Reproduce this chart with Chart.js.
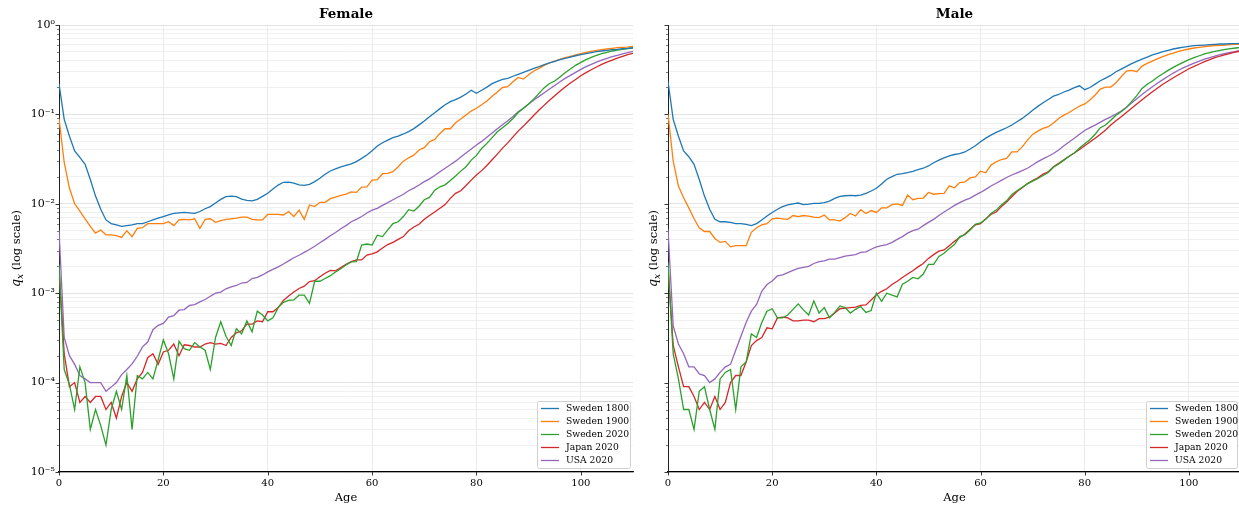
<!DOCTYPE html>
<html>
<head>
<meta charset="utf-8">
<script src="https://cdn.jsdelivr.net/npm/chart.js@4.4.1/dist/chart.umd.min.js"></script>
<style>
  html, body { margin: 0; padding: 0; background: #fff; overflow: hidden; }
  #wrap { position: relative; width: 1239px; height: 512px; overflow: hidden; }
  canvas { position: absolute; top: 0; }
  #female { left: 0; }
  #male { left: 620px; }
</style>
</head>
<body>
<div id="wrap">
  <canvas id="female" width="640" height="512"></canvas>
  <canvas id="male" width="625" height="512"></canvas>
</div>
<script>
// ── Data ─────────────────────────────────────────────────────────────
const AGES = [
  0, 1, 2, 3, 4, 5, 6, 7, 8, 9,
  10, 11, 12, 13, 14, 15, 16, 17, 18, 19,
  20, 21, 22, 23, 24, 25, 26, 27, 28, 29,
  30, 31, 32, 33, 34, 35, 36, 37, 38, 39,
  40, 41, 42, 43, 44, 45, 46, 47, 48, 49,
  50, 51, 52, 53, 54, 55, 56, 57, 58, 59,
  60, 61, 62, 63, 64, 65, 66, 67, 68, 69,
  70, 71, 72, 73, 74, 75, 76, 77, 78, 79,
  80, 81, 82, 83, 84, 85, 86, 87, 88, 89,
  90, 91, 92, 93, 94, 95, 96, 97, 98, 99,
  100, 101, 102, 103, 104, 105, 106, 107, 108, 109, 110
];

const SERIES_LABELS = ['Sweden 1800', 'Sweden 1900', 'Sweden 2020', 'Japan 2020', 'USA 2020'];
const SERIES_COLORS = ['#1f77b4', '#ff7f0e', '#2ca02c', '#d62728', '#9467bd'];

const X_TICKS = [0, 20, 40, 60, 80, 100];
const Y_DECADES = [-5, -4, -3, -2, -1, 0];

// Female q_x
const F_SWE1800 = [
  0.22, 0.088, 0.057, 0.039, 0.033, 0.0276, 0.0187, 0.0122, 0.0087, 0.0066,
  0.0060, 0.0058, 0.0056, 0.0057, 0.0058, 0.0060, 0.0060, 0.0063, 0.0066, 0.0069,
  0.0072, 0.0075, 0.0078, 0.0079, 0.0080, 0.0079, 0.0078, 0.0082, 0.0088, 0.0093,
  0.0102, 0.0112, 0.0120, 0.0122, 0.0120, 0.0113, 0.0109, 0.0108, 0.0112, 0.0121,
  0.0131, 0.0146, 0.0162, 0.0174, 0.0175, 0.0170, 0.0163, 0.0161, 0.0165, 0.0177,
  0.0193, 0.0214, 0.0233, 0.0246, 0.0259, 0.0269, 0.0279, 0.0296, 0.0322, 0.0352,
  0.0393, 0.0443, 0.0482, 0.0516, 0.0549, 0.0573, 0.0604, 0.0641, 0.0693, 0.0763,
  0.0842, 0.0942, 0.1045, 0.116, 0.128, 0.139, 0.146, 0.156, 0.169, 0.186,
  0.172, 0.186, 0.202, 0.221, 0.234, 0.247, 0.253, 0.267, 0.281, 0.295,
  0.311, 0.327, 0.342, 0.360, 0.376, 0.392, 0.410, 0.424, 0.438, 0.453,
  0.466, 0.478, 0.490, 0.503, 0.512, 0.520, 0.530, 0.534, 0.543, 0.548, 0.558
];
const F_SWE1900 = [
  0.09, 0.029, 0.015, 0.010, 0.0083, 0.0068, 0.0056, 0.0047, 0.0051, 0.0045,
  0.0045, 0.0044, 0.0042, 0.0050, 0.0043, 0.0053, 0.0054, 0.0060, 0.0060, 0.0060,
  0.0060, 0.0063, 0.0057, 0.0066, 0.0067, 0.0066, 0.0068, 0.0053, 0.0067, 0.0068,
  0.0062, 0.0065, 0.0067, 0.0068, 0.0069, 0.0071, 0.0071, 0.0067, 0.0066, 0.0066,
  0.0076, 0.0076, 0.0076, 0.0075, 0.0082, 0.0072, 0.0085, 0.0067, 0.0097, 0.0093,
  0.0104, 0.0104, 0.0114, 0.0119, 0.0124, 0.0128, 0.0136, 0.0134, 0.0154, 0.0155,
  0.0184, 0.0186, 0.0217, 0.0219, 0.0229, 0.026, 0.030, 0.0327, 0.035, 0.040,
  0.0424, 0.0494, 0.0525, 0.0613, 0.0691, 0.0691, 0.0807, 0.0887, 0.0984, 0.109,
  0.117, 0.128, 0.141, 0.160, 0.178, 0.200, 0.204, 0.232, 0.259, 0.248,
  0.278, 0.306, 0.327, 0.354, 0.376, 0.395, 0.413, 0.431, 0.446, 0.462,
  0.478, 0.494, 0.507, 0.520, 0.530, 0.539, 0.548, 0.558, 0.563, 0.567, 0.577
];
const F_SWE2020 = [
  0.0021, 0.00014, 0.000095, 0.00005, 0.00015, 0.0001, 0.00003, 0.00005, 0.000033, 0.00002,
  0.00005, 0.00008, 0.00005, 0.00012, 0.00003, 0.00012, 0.00011, 0.00013, 0.00011, 0.00018,
  0.0003, 0.00021, 0.00011, 0.00029, 0.00024, 0.00023, 0.00028, 0.00025, 0.00023, 0.00014,
  0.00032, 0.00048, 0.00033, 0.00026, 0.0004, 0.00035, 0.00049, 0.00037, 0.00063, 0.00057,
  0.00049, 0.00053, 0.00069, 0.00079, 0.00083, 0.00084, 0.00095, 0.00095, 0.00077, 0.00136,
  0.00136, 0.00146, 0.00157, 0.00173, 0.00188, 0.00207, 0.00224, 0.00226, 0.00345, 0.00355,
  0.00345, 0.00446, 0.0043, 0.0051, 0.006, 0.0063, 0.0072, 0.0086, 0.0083, 0.0094,
  0.0111, 0.0118, 0.0142, 0.0155, 0.0163, 0.0182, 0.0205, 0.0232, 0.026, 0.0308,
  0.0348, 0.0416, 0.0474, 0.055, 0.064, 0.071, 0.079, 0.09, 0.105, 0.117,
  0.131, 0.149, 0.172, 0.199, 0.222, 0.236, 0.262, 0.293, 0.322, 0.354,
  0.382, 0.41, 0.434, 0.457, 0.478, 0.494, 0.512, 0.525, 0.534, 0.543, 0.553
];
const F_JPN2020 = [
  0.0019, 0.00021, 0.00009, 0.0001, 0.00006, 0.00007, 0.00006, 0.00007, 0.00007, 0.00005,
  0.00006, 0.00004, 0.00007, 0.0001, 0.00008, 0.00011, 0.00013, 0.00019, 0.00021, 0.00016,
  0.00022, 0.00023, 0.00027, 0.0002, 0.000265, 0.00026, 0.00025, 0.00025, 0.00027, 0.00028,
  0.00027, 0.000275, 0.00026, 0.00032, 0.00036, 0.00038, 0.00045, 0.00045, 0.00049, 0.00048,
  0.00062, 0.00062, 0.00069, 0.00083, 0.00093, 0.00103, 0.00113, 0.0012, 0.00135, 0.00138,
  0.00153, 0.00167, 0.0018, 0.00178, 0.00194, 0.00211, 0.00226, 0.00236, 0.00236, 0.00267,
  0.00275, 0.0029, 0.0032, 0.0035, 0.0037, 0.004, 0.0043, 0.005, 0.0055, 0.0059,
  0.0067, 0.0074, 0.0081, 0.0089, 0.0098, 0.0115, 0.0131, 0.014, 0.016, 0.0184,
  0.021, 0.0235, 0.0268, 0.0311, 0.036, 0.042, 0.048, 0.056, 0.065, 0.074,
  0.085, 0.098, 0.112, 0.127, 0.144, 0.162, 0.181, 0.202, 0.224, 0.246,
  0.271, 0.293, 0.316, 0.339, 0.363, 0.385, 0.405, 0.427, 0.446, 0.466, 0.482
];
const F_USA2020 = [
  0.0051, 0.00032, 0.0002, 0.00016, 0.00012, 0.00011, 0.0001, 0.0001, 0.0001, 0.00008,
  0.000089, 0.0001, 0.000123, 0.00014, 0.000162, 0.000197, 0.000251, 0.000284, 0.00039, 0.000437,
  0.00046, 0.00054, 0.00056, 0.000645, 0.000656, 0.00073, 0.000747, 0.0008, 0.00085, 0.000925,
  0.001, 0.00103, 0.00112, 0.00118, 0.00122, 0.0013, 0.00132, 0.00146, 0.0015, 0.0016,
  0.00173, 0.00185, 0.00197, 0.00212, 0.0023, 0.00249, 0.00266, 0.00286, 0.00308, 0.00335,
  0.00366, 0.004, 0.0044, 0.00478, 0.00525, 0.0057, 0.0063, 0.0067, 0.0072, 0.0079,
  0.0085, 0.0089, 0.0096, 0.0103, 0.0111, 0.0119, 0.0128, 0.014, 0.015, 0.0162,
  0.0177, 0.019, 0.0207, 0.0228, 0.025, 0.0273, 0.03, 0.0333, 0.037, 0.041,
  0.0455, 0.0499, 0.0556, 0.062, 0.069, 0.0766, 0.085, 0.095, 0.107, 0.117,
  0.131, 0.145, 0.159, 0.175, 0.192, 0.211, 0.232, 0.253, 0.273, 0.295,
  0.319, 0.342, 0.363, 0.385, 0.405, 0.424, 0.442, 0.457, 0.474, 0.49, 0.507
];

// Male q_x
const M_SWE1800 = [
  0.235, 0.088, 0.057, 0.039, 0.0336, 0.0276, 0.0187, 0.0122, 0.0087, 0.0067,
  0.0063, 0.0063, 0.0062, 0.0060, 0.0060, 0.0059, 0.0057, 0.0060, 0.0066, 0.0073,
  0.0080, 0.0087, 0.0093, 0.0097, 0.0100, 0.0102, 0.0098, 0.0099, 0.0101, 0.0101,
  0.0103, 0.0107, 0.0115, 0.0121, 0.0123, 0.0124, 0.0123, 0.0125, 0.0131, 0.0139,
  0.0149, 0.0167, 0.0188, 0.0201, 0.0214, 0.0217, 0.0223, 0.0231, 0.0241, 0.0250,
  0.0265, 0.0288, 0.0308, 0.0327, 0.0344, 0.0356, 0.0365, 0.0380, 0.0410, 0.0446,
  0.0494, 0.0543, 0.0587, 0.0629, 0.0667, 0.0709, 0.0760, 0.0828, 0.0902, 0.100,
  0.111, 0.123, 0.135, 0.147, 0.160, 0.167, 0.178, 0.187, 0.199, 0.209,
  0.189, 0.200, 0.218, 0.238, 0.255, 0.273, 0.300, 0.321, 0.344, 0.369,
  0.392, 0.416, 0.438, 0.462, 0.482, 0.503, 0.521, 0.539, 0.553, 0.567,
  0.577, 0.587, 0.592, 0.597, 0.602, 0.607, 0.613, 0.613, 0.618, 0.618, 0.623
];
const M_SWE1900 = [
  0.10, 0.030, 0.0158, 0.0117, 0.0090, 0.0068, 0.0054, 0.0049, 0.0049, 0.0041,
  0.0037, 0.0038, 0.0033, 0.0034, 0.0034, 0.0034, 0.0048, 0.0054, 0.0058, 0.0060,
  0.0068, 0.0069, 0.0068, 0.0067, 0.0074, 0.0072, 0.0074, 0.0073, 0.0071, 0.0070,
  0.0075, 0.0066, 0.0066, 0.0064, 0.0070, 0.0078, 0.0073, 0.0086, 0.0078, 0.0084,
  0.0080, 0.0090, 0.0090, 0.0098, 0.0100, 0.0096, 0.0125, 0.0111, 0.0115, 0.0116,
  0.0134, 0.0128, 0.0130, 0.0131, 0.0159, 0.0151, 0.0173, 0.0176, 0.0195, 0.0200,
  0.0232, 0.0222, 0.0271, 0.0295, 0.0313, 0.0322, 0.0380, 0.0380, 0.0433, 0.0516,
  0.0597, 0.0650, 0.0697, 0.0728, 0.0800, 0.0902, 0.098, 0.105, 0.114, 0.124,
  0.131, 0.145, 0.165, 0.192, 0.202, 0.202, 0.226, 0.264, 0.305, 0.311,
  0.300, 0.347, 0.372, 0.395, 0.420, 0.442, 0.466, 0.486, 0.507, 0.525,
  0.539, 0.553, 0.563, 0.572, 0.582, 0.587, 0.592, 0.597, 0.602, 0.607, 0.613
];
const M_SWE2020 = [
  0.0022, 0.00021, 0.00011, 0.00005, 0.00005, 0.00003, 0.00008, 0.00009, 0.00005, 0.00003,
  0.00011, 0.00013, 0.00014, 0.00005, 0.00015, 0.00017, 0.00035, 0.00032, 0.00047, 0.00063,
  0.00067, 0.00053, 0.00053, 0.00057, 0.00066, 0.00076, 0.00065, 0.00057, 0.00082, 0.0006,
  0.00069, 0.00053, 0.00061, 0.00072, 0.00069, 0.0006, 0.00066, 0.00071, 0.00061, 0.00064,
  0.001, 0.00081, 0.001, 0.00095, 0.00091, 0.00126, 0.00136, 0.0015, 0.00145, 0.00164,
  0.0021, 0.0021, 0.00258, 0.0028, 0.00316, 0.0035, 0.0043, 0.0045, 0.0051, 0.0059,
  0.0061, 0.0067, 0.0078, 0.0085, 0.0097, 0.0108, 0.0127, 0.014, 0.0153, 0.0167,
  0.0179, 0.0192, 0.0207, 0.0224, 0.0256, 0.0279, 0.0308, 0.034, 0.037, 0.042,
  0.047, 0.052, 0.06, 0.071, 0.076, 0.086, 0.098, 0.107, 0.119, 0.139,
  0.162, 0.195, 0.217, 0.236, 0.262, 0.285, 0.311, 0.336, 0.36, 0.385,
  0.41, 0.431, 0.453, 0.474, 0.49, 0.507, 0.521, 0.534, 0.543, 0.553, 0.563
];
const M_JPN2020 = [
  0.0019, 0.00026, 0.00015, 0.00009, 0.00009, 0.00007, 0.00005, 0.00006, 0.00005, 0.00007,
  0.00005, 0.00006, 0.0001, 0.00012, 0.00012, 0.00017, 0.00026, 0.000295, 0.00032, 0.00041,
  0.0004, 0.00053, 0.00054, 0.00053, 0.00049, 0.00049, 0.0005, 0.0005, 0.00048, 0.00052,
  0.00052, 0.00054, 0.0006, 0.00067, 0.00068, 0.00069, 0.0007, 0.00073, 0.00074, 0.00084,
  0.00096, 0.00105, 0.00112, 0.00125, 0.00136, 0.0015, 0.00164, 0.00178, 0.00197, 0.00215,
  0.00245, 0.0027, 0.00295, 0.00305, 0.0034, 0.0038, 0.0042, 0.0046, 0.0052, 0.0058,
  0.006, 0.0068, 0.0076, 0.0081, 0.0093, 0.0105, 0.012, 0.0137, 0.0151, 0.0169,
  0.0182, 0.0195, 0.0215, 0.0228, 0.026, 0.0283, 0.031, 0.034, 0.037, 0.0405,
  0.0445, 0.049, 0.054, 0.06, 0.067, 0.076, 0.085, 0.094, 0.105, 0.117,
  0.131, 0.146, 0.162, 0.179, 0.197, 0.217, 0.236, 0.257, 0.278, 0.3,
  0.324, 0.344, 0.366, 0.389, 0.41, 0.431, 0.45, 0.466, 0.482, 0.499, 0.512
];
const M_USA2020 = [
  0.0052, 0.00043, 0.00027, 0.00021, 0.00015, 0.00015, 0.000125, 0.00012, 0.0001, 0.00011,
  0.00013, 0.00015, 0.00016, 0.00023, 0.00033, 0.00047, 0.00063, 0.00075, 0.00105, 0.00125,
  0.00137, 0.00156, 0.0016, 0.0017, 0.0018, 0.0019, 0.00195, 0.002, 0.00215, 0.00225,
  0.0023, 0.0024, 0.0024, 0.0025, 0.0026, 0.00265, 0.0027, 0.00286, 0.0029, 0.0031,
  0.0033, 0.0034, 0.0035, 0.0037, 0.004, 0.0043, 0.0047, 0.005, 0.0052, 0.0057,
  0.0062, 0.0067, 0.0074, 0.0081, 0.0088, 0.0096, 0.0103, 0.011, 0.0116, 0.0125,
  0.0134, 0.0145, 0.0158, 0.017, 0.0183, 0.0197, 0.021, 0.0222, 0.0235, 0.025,
  0.0272, 0.0296, 0.0318, 0.034, 0.0365, 0.04, 0.0445, 0.049, 0.054, 0.06,
  0.066, 0.071, 0.076, 0.082, 0.088, 0.094, 0.101, 0.109, 0.12, 0.134,
  0.15, 0.167, 0.185, 0.204, 0.224, 0.245, 0.267, 0.29, 0.312, 0.333,
  0.354, 0.375, 0.395, 0.414, 0.432, 0.449, 0.465, 0.48, 0.495, 0.508, 0.52
];

const FEMALE_SERIES = [F_SWE1800, F_SWE1900, F_SWE2020, F_JPN2020, F_USA2020];
const MALE_SERIES   = [M_SWE1800, M_SWE1900, M_SWE2020, M_JPN2020, M_USA2020];

// ── Helpers ──────────────────────────────────────────────────────────
const FONT = '"DejaVu Serif", "Liberation Serif", serif';
const SUP = { '-': '\u207B', '0': '\u2070', '1': '\u00B9', '2': '\u00B2', '3': '\u00B3',
              '4': '\u2074', '5': '\u2075', '6': '\u2076', '7': '\u2077', '8': '\u2078', '9': '\u2079' };
const powLabel = e => '10' + String(e).split('').map(c => SUP[c]).join('');

const Y_TICK_VALUES = [];
Y_DECADES.forEach(e => {
    const top = e === 0 ? 1 : 9;
    for (let m = 1; m <= top; m++) Y_TICK_VALUES.push({ value: m * Math.pow(10, e), major: m === 1, exp: e });
});

const buildDatasets = series => series.map((vals, i) => ({
    label: SERIES_LABELS[i],
    data: vals.map((v, k) => ({ x: AGES[k], y: v })),
    borderColor: SERIES_COLORS[i],
    backgroundColor: SERIES_COLORS[i],
    borderWidth: 1.3,
    pointRadius: 0,
    tension: 0,
    fill: false
}));

// titles, axis labels, tick marks and legend drawn by hand (matplotlib look)
const panelDecor = {
    id: 'panelDecor',
    afterDraw(chart, args, opts) {
        const { ctx, chartArea: ca, scales } = chart;
        ctx.save();

        // tick marks
        ctx.strokeStyle = '#222';
        scales.y.ticks.forEach(t => {
            const y = Math.round(scales.y.getPixelForValue(t.value)) + 0.5;
            const len = t.major ? 3.5 : 2;
            ctx.lineWidth = t.major ? 0.9 : 0.6;
            ctx.beginPath(); ctx.moveTo(ca.left - len, y); ctx.lineTo(ca.left, y); ctx.stroke();
        });
        ctx.lineWidth = 0.9;
        X_TICKS.forEach(v => {
            const x = Math.round(scales.x.getPixelForValue(v)) + 0.5;
            ctx.beginPath(); ctx.moveTo(x, ca.bottom); ctx.lineTo(x, ca.bottom + 3.5); ctx.stroke();
        });

        // title
        ctx.fillStyle = '#000';
        ctx.font = 'bold 13.5px ' + FONT;
        ctx.textAlign = 'center';
        ctx.textBaseline = 'middle';
        ctx.fillText(opts.title, (ca.left + ca.right) / 2, 14);

        // x label
        ctx.font = '11.5px ' + FONT;
        ctx.fillText('Age', (ca.left + ca.right) / 2, 498);

        // y label: q_x (log scale)
        ctx.save();
        ctx.translate(opts.yLabelX, (ca.top + ca.bottom) / 2);
        ctx.rotate(-Math.PI / 2);
        ctx.textAlign = 'left';
        ctx.textBaseline = 'alphabetic';
        ctx.font = 'italic 12.5px ' + FONT;
        const wq = ctx.measureText('q').width;
        ctx.font = 'italic 9px ' + FONT;
        const wx = ctx.measureText('x').width;
        ctx.font = '11.5px ' + FONT;
        const wr = ctx.measureText(' (log scale)').width;
        let sx = -(wq + wx + wr) / 2;
        ctx.font = 'italic 12.5px ' + FONT;
        ctx.fillText('q', sx, 4); sx += wq;
        ctx.font = 'italic 9px ' + FONT;
        ctx.fillText('x', sx, 6.5); sx += wx;
        ctx.font = '11.5px ' + FONT;
        ctx.fillText(' (log scale)', sx, 4);
        ctx.restore();

        // legend (lower right)
        const bw = opts.legendWidth, bh = 67;
        const bx = ca.right - opts.legendRight - bw, by = ca.bottom - 4 - bh;
        ctx.fillStyle = 'rgba(255,255,255,0.8)';
        ctx.strokeStyle = '#d0d0d0';
        ctx.lineWidth = 1;
        ctx.beginPath();
        ctx.roundRect(bx + 0.5, by + 0.5, bw, bh, 2);
        ctx.fill(); ctx.stroke();
        ctx.font = '9.2px ' + FONT;
        ctx.textAlign = 'left';
        ctx.textBaseline = 'middle';
        chart.data.datasets.forEach((ds, i) => {
            const ry = by + 7.5 + i * 13;
            ctx.strokeStyle = ds.borderColor;
            ctx.lineWidth = 1.3;
            ctx.beginPath(); ctx.moveTo(bx + 4, ry); ctx.lineTo(bx + 22, ry); ctx.stroke();
            ctx.fillStyle = '#000';
            ctx.fillText(ds.label, bx + 29, ry + 0.5);
        });

        ctx.restore();
    }
};

function makePanel(canvasId, series, cfg) {
    return new Chart(document.getElementById(canvasId), {
        type: 'line',
        data: { datasets: buildDatasets(series) },
        options: {
            responsive: false,
            animation: false,
            layout: { padding: { top: 25, right: cfg.padRight, left: 0, bottom: 0 } },
            plugins: {
                legend: { display: false },
                tooltip: { enabled: false },
                panelDecor: { title: cfg.title, yLabelX: cfg.yLabelX, legendWidth: cfg.legendWidth, legendRight: cfg.legendRight }
            },
            scales: {
                x: {
                    type: 'linear',
                    min: 0,
                    max: 110,
                    afterFit: s => { s.height = 40; },
                    afterBuildTicks: s => { s.ticks = X_TICKS.map(v => ({ value: v })); },
                    ticks: {
                        autoSkip: false,
                        maxRotation: 0,
                        padding: 5,
                        color: '#000',
                        font: { family: FONT, size: 10 }
                    },
                    grid: { color: '#e4e4e4', lineWidth: 0.8, drawTicks: false },
                    border: { display: true, color: '#000', width: 1.2 }
                },
                y: {
                    type: 'logarithmic',
                    min: 1e-5,
                    max: 1,
                    afterFit: s => { s.width = cfg.yWidth; },
                    afterBuildTicks: s => { s.ticks = Y_TICK_VALUES.map(t => ({ value: t.value, major: t.major })); },
                    ticks: {
                        autoSkip: false,
                        padding: 4,
                        color: '#000',
                        font: { family: FONT, size: 11 },
                        callback: (value, idx) => {
                            if (!cfg.showYLabels) return '';
                            const t = Y_TICK_VALUES[idx];
                            return t && t.major ? powLabel(t.exp) : '';
                        }
                    },
                    grid: {
                        drawTicks: false,
                        lineWidth: 0.8,
                        color: c => (c.tick && c.tick.major) ? '#dcdcdc' : '#ececec'
                    },
                    border: { display: true, color: '#222', width: 1 }
                }
            }
        },
        plugins: [panelDecor]
    });
}

makePanel('female', FEMALE_SERIES, {
    title: 'Female', yWidth: 59, padRight: 7, yLabelX: 16, showYLabels: true,
    legendWidth: 93, legendRight: 3
});
makePanel('male', MALE_SERIES, {
    title: 'Male', yWidth: 48, padRight: 4, yLabelX: 33, showYLabels: false,
    legendWidth: 91, legendRight: 4
});
</script>
</body>
</html>
